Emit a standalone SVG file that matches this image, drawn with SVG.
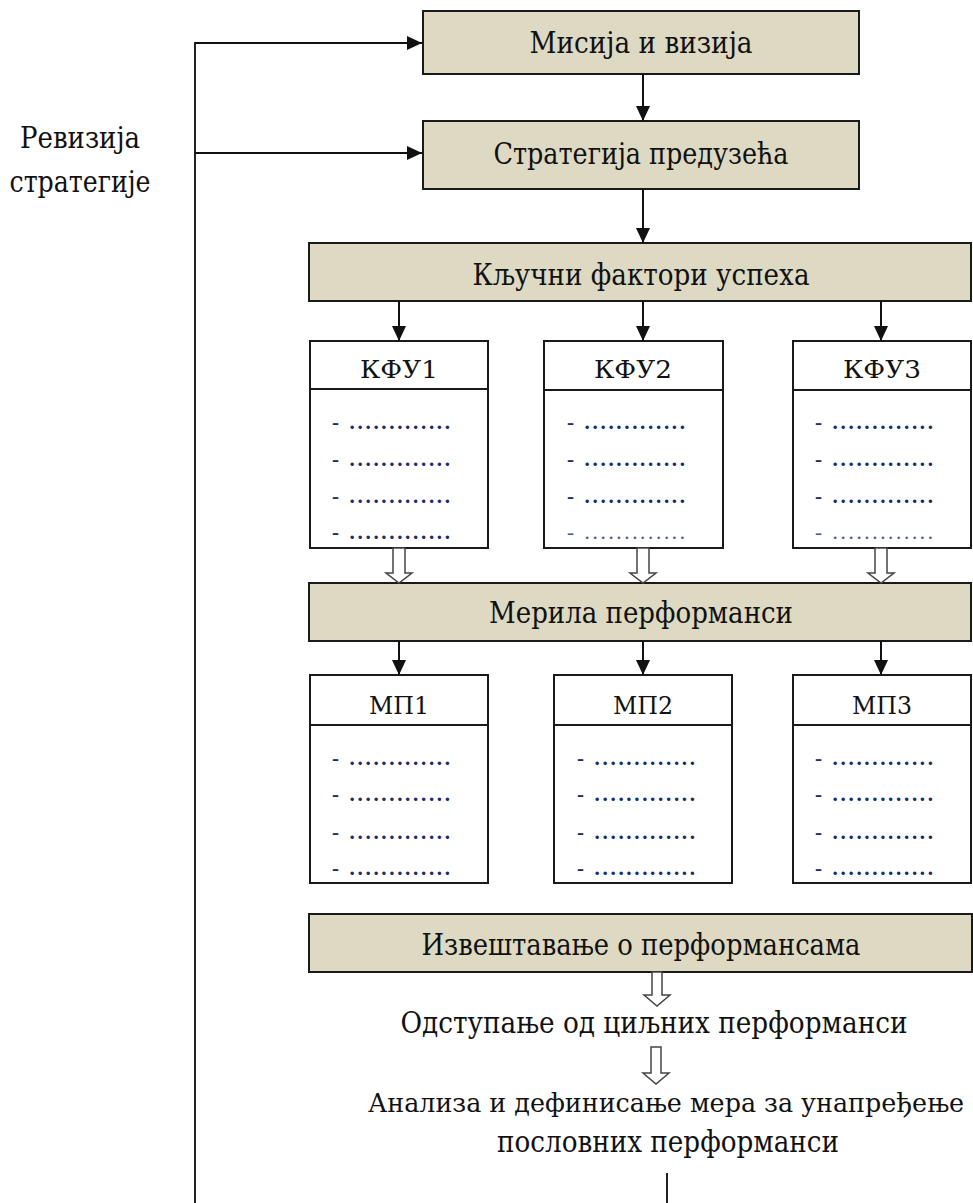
<svg xmlns="http://www.w3.org/2000/svg" width="973" height="1203" viewBox="0 0 973 1203">
<defs>
<marker id="ah" markerUnits="userSpaceOnUse" markerWidth="16" markerHeight="14" refX="15" refY="7" orient="auto">
<path d="M0,0 L15,7 L0,14 z" fill="#111"/>
</marker>
<style>
.bg{fill:#ffffff}
.tan{fill:#DDD9C3;stroke:#1a1a1a;stroke-width:2}
.box{fill:#ffffff;stroke:#1a1a1a;stroke-width:2}
.div{stroke:#1a1a1a;stroke-width:2}
.t{font-family:"DejaVu Serif Condensed","DejaVu Serif","Liberation Serif",serif;font-size:29px;fill:#111;text-anchor:middle}
.h{font-family:"DejaVu Serif Condensed","DejaVu Serif","Liberation Serif",serif;font-size:25px;fill:#111;text-anchor:middle}
.d{font-family:"Liberation Serif","DejaVu Serif",serif;font-size:21px;font-weight:bold;fill:#1a2a6a}
.dl{font-family:"Liberation Serif","DejaVu Serif",serif;font-size:21px;fill:#4a5a8a}
.c{fill:none;stroke:#111;stroke-width:2;marker-end:url(#ah)}
.ln{fill:none;stroke:#222;stroke-width:2}
.ha{fill:#ffffff;stroke:#444;stroke-width:1.5}
</style>
</defs>
<rect class="bg" x="0" y="0" width="973" height="1203"/>

<g id="label-revizija">
<text class="t" x="80" y="148" textLength="120" lengthAdjust="spacingAndGlyphs">Ревизија</text>
<text class="t" x="80" y="192" textLength="141" lengthAdjust="spacingAndGlyphs">стратегије</text>
</g>

<g id="misija">
<rect class="tan" x="423" y="11" width="436" height="63"/>
<text class="t" x="641" y="53" textLength="223" lengthAdjust="spacingAndGlyphs">Мисија и визија</text>
</g>

<g id="strategija">
<rect class="tan" x="423" y="121" width="436" height="68"/>
<text class="t" x="641" y="164" textLength="295" lengthAdjust="spacingAndGlyphs">Стратегија предузећа</text>
</g>

<g id="kljucni">
<rect class="tan" x="309" y="243" width="662" height="58"/>
<text class="t" x="641" y="285" textLength="337" lengthAdjust="spacingAndGlyphs">Кључни фактори успеха</text>
</g>

<g id="kfu1">
<rect class="box" x="310" y="341" width="178" height="207"/>
<line class="div" x1="310" y1="389" x2="488" y2="389"/>
<text class="h" x="399" y="378" textLength="78" lengthAdjust="spacingAndGlyphs">КФУ1</text>
<text class="d" x="332" y="429" textLength="118" lengthAdjust="spacing">- .............</text>
<text class="d" x="332" y="466" textLength="118" lengthAdjust="spacing">- .............</text>
<text class="d" x="332" y="503" textLength="118" lengthAdjust="spacing">- .............</text>
<text class="d" x="332" y="539" textLength="118" lengthAdjust="spacing">- .............</text>
</g>

<g id="kfu2">
<rect class="box" x="544" y="341" width="179" height="207"/>
<line class="div" x1="544" y1="390" x2="723" y2="390"/>
<text class="h" x="633" y="378" textLength="78" lengthAdjust="spacingAndGlyphs">КФУ2</text>
<text class="d" x="567" y="429" textLength="118" lengthAdjust="spacing">- .............</text>
<text class="d" x="567" y="466" textLength="118" lengthAdjust="spacing">- .............</text>
<text class="d" x="567" y="503" textLength="118" lengthAdjust="spacing">- .............</text>
<text class="dl" x="567" y="539" textLength="118" lengthAdjust="spacing">- .............</text>
</g>

<g id="kfu3">
<rect class="box" x="793" y="341" width="178" height="207"/>
<line class="div" x1="793" y1="390" x2="971" y2="390"/>
<text class="h" x="882" y="378" textLength="78" lengthAdjust="spacingAndGlyphs">КФУ3</text>
<text class="d" x="815" y="429" textLength="118" lengthAdjust="spacing">- .............</text>
<text class="d" x="815" y="466" textLength="118" lengthAdjust="spacing">- .............</text>
<text class="d" x="815" y="503" textLength="118" lengthAdjust="spacing">- .............</text>
<text class="dl" x="815" y="539" textLength="118" lengthAdjust="spacing">- .............</text>
</g>

<g id="merila">
<rect class="tan" x="309" y="583" width="662" height="58"/>
<text class="t" x="641" y="623" textLength="304" lengthAdjust="spacingAndGlyphs">Мерила перформанси</text>
</g>

<g id="mp1">
<rect class="box" x="310" y="675" width="178" height="208"/>
<line class="div" x1="310" y1="725" x2="488" y2="725"/>
<text class="h" x="399" y="714" textLength="60" lengthAdjust="spacingAndGlyphs">МП1</text>
<text class="d" x="332" y="765" textLength="118" lengthAdjust="spacing">- .............</text>
<text class="d" x="332" y="801" textLength="118" lengthAdjust="spacing">- .............</text>
<text class="d" x="332" y="839" textLength="118" lengthAdjust="spacing">- .............</text>
<text class="d" x="332" y="875" textLength="118" lengthAdjust="spacing">- .............</text>
</g>

<g id="mp2">
<rect class="box" x="554" y="675" width="178" height="208"/>
<line class="div" x1="554" y1="725" x2="732" y2="725"/>
<text class="h" x="643" y="714" textLength="60" lengthAdjust="spacingAndGlyphs">МП2</text>
<text class="d" x="577" y="765" textLength="118" lengthAdjust="spacing">- .............</text>
<text class="d" x="577" y="801" textLength="118" lengthAdjust="spacing">- .............</text>
<text class="d" x="577" y="839" textLength="118" lengthAdjust="spacing">- .............</text>
<text class="d" x="577" y="875" textLength="118" lengthAdjust="spacing">- .............</text>
</g>

<g id="mp3">
<rect class="box" x="793" y="675" width="178" height="208"/>
<line class="div" x1="793" y1="725" x2="971" y2="725"/>
<text class="h" x="882" y="714" textLength="60" lengthAdjust="spacingAndGlyphs">МП3</text>
<text class="d" x="815" y="765" textLength="118" lengthAdjust="spacing">- .............</text>
<text class="d" x="815" y="801" textLength="118" lengthAdjust="spacing">- .............</text>
<text class="d" x="815" y="839" textLength="118" lengthAdjust="spacing">- .............</text>
<text class="d" x="815" y="875" textLength="118" lengthAdjust="spacing">- .............</text>
</g>

<g id="izvestavanje">
<rect class="tan" x="309" y="914" width="663" height="58"/>
<text class="t" x="641" y="955" textLength="439" lengthAdjust="spacingAndGlyphs">Извештавање о перформансама</text>
</g>

<g id="odstupanje">
<text class="t" x="654" y="1033" textLength="507" lengthAdjust="spacingAndGlyphs">Одступање од циљних перформанси</text>
</g>

<g id="analiza">
<text class="t" x="666" y="1112" style="font-size:26px" textLength="596" lengthAdjust="spacingAndGlyphs">Анализа и дефинисање мера за унапређење</text>
<text class="t" x="668" y="1152" textLength="342" lengthAdjust="spacingAndGlyphs">пословних перформанси</text>
</g>

<g id="connectors">
<path class="ln" d="M195,1203 V43 H408"/>
<path class="c" d="M195,43 H422"/>
<path class="c" d="M195,153 H422"/>
<path class="c" d="M643,74 V121"/>
<path class="c" d="M643,189 V243"/>
<path class="c" d="M399,301 V341"/>
<path class="c" d="M643,301 V341"/>
<path class="c" d="M881,301 V341"/>
<path class="c" d="M399,641 V675"/>
<path class="c" d="M643,641 V675"/>
<path class="c" d="M881,641 V675"/>
<path class="ln" d="M667,1173 V1203"/>
<polygon class="ha" points="393,548 405,548 405,573 412,573 399,583 386,573 393,573"/>
<polygon class="ha" points="637,548 649,548 649,573 656,573 643,583 630,573 637,573"/>
<polygon class="ha" points="875,548 887,548 887,573 894,573 881,583 868,573 875,573"/>
<polygon class="ha" points="652,972 662,972 662,995 670,995 657,1006 644,995 652,995"/>
<polygon class="ha" points="651,1047 661,1047 661,1073 669,1073 656,1084 643,1073 651,1073"/>
</g>
</svg>
